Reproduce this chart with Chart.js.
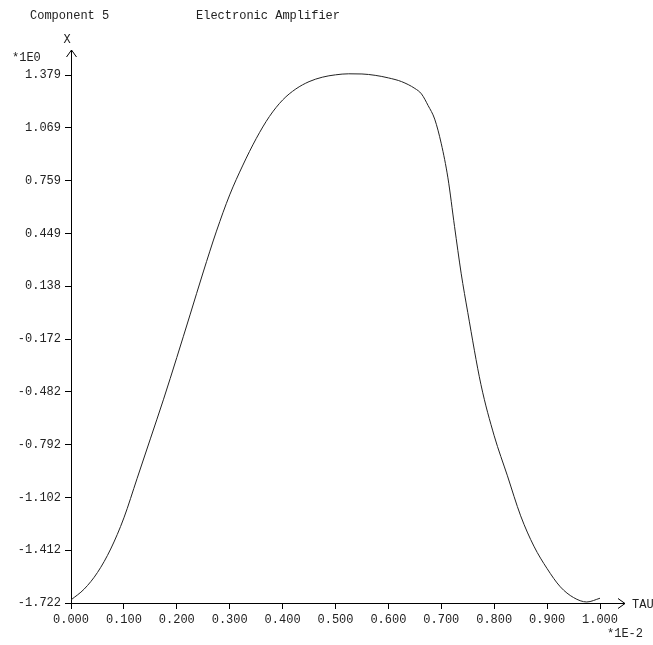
<!DOCTYPE html>
<html>
<head>
<meta charset="utf-8">
<script src="https://cdn.jsdelivr.net/npm/chart.js@4.4.1/dist/chart.umd.min.js"></script>
<style>
  body { margin: 0; background: #fff; }
  canvas { display: block; }
</style>
</head>
<body>
<canvas id="chart" width="653" height="645"></canvas>
<script>
// time axis (x1E-2)
const tau = [
  0.000, 0.025, 0.050, 0.075, 0.100, 0.125, 0.150, 0.175, 0.200, 0.225,
  0.250, 0.275, 0.300, 0.325, 0.350, 0.375, 0.400, 0.425, 0.450, 0.475,
  0.500, 0.525, 0.550, 0.575, 0.600, 0.625, 0.650, 0.6625, 0.675, 0.6875,
  0.700, 0.7125, 0.725, 0.7375, 0.750, 0.775, 0.800, 0.825, 0.850, 0.875,
  0.900, 0.925, 0.950, 0.975, 1.000
];
// X (x1E0)
const xOut = [
  -1.704, -1.640, -1.543, -1.405, -1.222, -0.990, -0.758, -0.525, -0.280, -0.030,
  0.222, 0.462, 0.675, 0.850, 1.005, 1.135, 1.232, 1.297, 1.340, 1.366,
  1.380, 1.386, 1.385, 1.377, 1.362, 1.340, 1.300, 1.268, 1.200, 1.120,
  0.975, 0.775, 0.490, 0.215, -0.015, -0.440, -0.740, -0.975, -1.210, -1.388,
  -1.520, -1.627, -1.690, -1.716, -1.694
];
const yTicks = [1.379, 1.069, 0.759, 0.449, 0.138, -0.172, -0.482, -0.792, -1.102, -1.412, -1.722];
const xTicks = [0, 0.1, 0.2, 0.3, 0.4, 0.5, 0.6, 0.7, 0.8, 0.9, 1.0];

const FONT = "'Liberation Mono', 'DejaVu Sans Mono', monospace";
Chart.defaults.font.family = FONT;
Chart.defaults.font.size = 12;
Chart.defaults.color = "#222";

// axis arrows and the loose labels round the plot
const decor = {
  id: "decor",
  afterDraw(chart) {
    const { ctx, chartArea: a } = chart;
    const x0 = Math.round(a.left) + 0.5;
    const y0 = Math.round(a.bottom) + 0.5;
    ctx.save();
    ctx.strokeStyle = "#000";
    ctx.lineWidth = 1;
    ctx.beginPath();
    ctx.moveTo(x0, a.top); ctx.lineTo(x0, 50);
    ctx.moveTo(x0 - 5, 57); ctx.lineTo(x0, 50); ctx.lineTo(x0 + 5, 57);
    ctx.moveTo(a.right, y0); ctx.lineTo(625, y0);
    ctx.moveTo(618, y0 - 5); ctx.lineTo(625, y0); ctx.lineTo(618, y0 + 5);
    ctx.stroke();

    ctx.fillStyle = "#222";
    ctx.font = "12px " + FONT;
    ctx.textBaseline = "middle";
    ctx.textAlign = "left";
    ctx.fillText("Component 5", 30, 16);
    ctx.fillText("Electronic Amplifier", 196, 16);
    ctx.fillText("*1E0", 12, 58);
    ctx.fillText("TAU", 632, 605);
    ctx.fillText("*1E-2", 607, 634);
    ctx.textAlign = "center";
    ctx.fillText("X", 67, 40);
    ctx.restore();
  }
};

new Chart(document.getElementById("chart"), {
  type: "line",
  data: {
    datasets: [{
      data: tau.map((t, i) => ({ x: t, y: xOut[i] })),
      borderColor: "#222",
      borderWidth: 1,
      pointRadius: 0,
      cubicInterpolationMode: "monotone",
      clip: 6
    }]
  },
  options: {
    responsive: false,
    animation: false,
    layout: { padding: { top: 75, right: 53, bottom: 0, left: 0 } },
    plugins: { legend: { display: false }, tooltip: { enabled: false } },
    scales: {
      x: {
        type: "linear",
        min: 0,
        max: 1,
        afterBuildTicks: (s) => { s.ticks = xTicks.map(v => ({ value: v })); },
        afterFit: (s) => { s.height = 42; },
        ticks: { autoSkip: false, maxRotation: 0, padding: 4, callback: v => v.toFixed(3) },
        grid: { drawOnChartArea: false, tickLength: 6, color: "#000" },
        border: { color: "#000", width: 1 }
      },
      y: {
        min: -1.722,
        max: 1.379,
        afterBuildTicks: (s) => { s.ticks = yTicks.map(v => ({ value: v })); },
        afterFit: (s) => { s.width = 71; },
        ticks: { autoSkip: false, padding: 4, callback: v => v.toFixed(3) },
        grid: { drawOnChartArea: false, tickLength: 6, color: "#000" },
        border: { color: "#000", width: 1 }
      }
    }
  },
  plugins: [decor]
});
</script>
</body>
</html>
